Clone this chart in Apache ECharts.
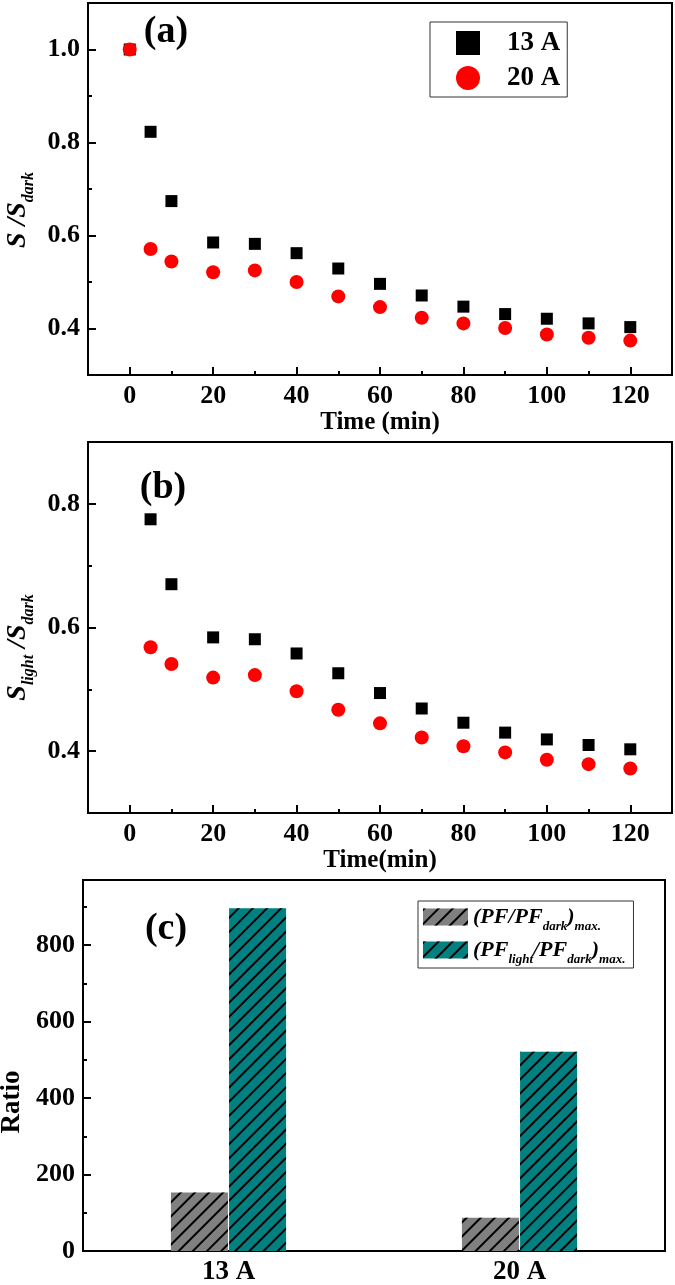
<!DOCTYPE html>
<html><head><meta charset="utf-8">
<script src="https://cdn.jsdelivr.net/npm/echarts@6/dist/echarts.min.js"></script>
<style>html,body{margin:0;padding:0;background:#fff}#c{width:675px;height:1285px}</style>
</head><body><div id="c"></div>
<script>
// ---- data ----
const timeA = [0, 5, 10, 20, 30, 40, 50, 60, 70, 80, 90, 100, 110, 120];
const sA13 = [1.0, 0.823, 0.674, 0.585, 0.582, 0.562, 0.529, 0.496, 0.471, 0.447, 0.431, 0.421, 0.411, 0.403];
const sA20 = [1.0, 0.571, 0.544, 0.521, 0.525, 0.500, 0.469, 0.446, 0.423, 0.411, 0.401, 0.387, 0.380, 0.374];
const timeB = [5, 10, 20, 30, 40, 50, 60, 70, 80, 90, 100, 110, 120];
const sB13 = [0.775, 0.670, 0.584, 0.581, 0.558, 0.526, 0.494, 0.469, 0.446, 0.430, 0.419, 0.410, 0.403];
const sB20 = [0.568, 0.541, 0.519, 0.523, 0.497, 0.467, 0.445, 0.422, 0.408, 0.398, 0.386, 0.379, 0.372];
const seriesNames = ['13 A', '20 A'];
const currents = ['13 A', '20 A'];
const pfRatioMax = [153, 87];
const pfLightRatioMax = [896, 521];
const barNames = ['(PF/PF_dark)max.', '(PF_light/PF_dark)max.'];
const timeTicks = [0, 20, 40, 60, 80, 100, 120];
const timeMinorTicks = [10, 30, 50, 70, 90, 110];
const yTicksA = [0.4, 0.6, 0.8, 1.0];
const yMinorA = [0.5, 0.7, 0.9];
const yTicksB = [0.4, 0.6, 0.8];
const yMinorB = [0.5, 0.7];
const yTicksC = [0, 200, 400, 600, 800];
const yMinorC = [100, 300, 500, 700, 900];

// ---- styling ----
const FF = "'Liberation Serif','Times New Roman',serif";
const zip = (xs, ys) => xs.map((x, i) => [x, ys[i]]);
const lineW = { color: '#000', width: 2 };

function xMain(g, name) {
  return {
    gridIndex: g, type: 'value', min: -10, max: 130, position: 'bottom',
    axisLine: { show: true, onZero: false, lineStyle: lineW },
    axisTick: { show: true, inside: true, length: 8, customValues: timeTicks, lineStyle: lineW },
    axisLabel: { customValues: timeTicks, fontSize: 26, fontWeight: 'bold', fontFamily: FF, color: '#000', margin: 8 },
    splitLine: { show: false },
    name: name, nameLocation: 'middle', nameGap: 33,
    nameTextStyle: { fontSize: 25, fontWeight: 'bold', fontFamily: FF, color: '#000' }
  };
}
function xMinor(g) {
  return {
    gridIndex: g, type: 'value', min: -10, max: 130, position: 'bottom',
    axisLine: { show: false, onZero: false },
    axisTick: { show: true, inside: true, length: 4, customValues: timeMinorTicks, lineStyle: lineW },
    axisLabel: { show: false }, splitLine: { show: false }
  };
}
function yMain(g, min, max, ticks, name, rich, gap, pad, fmt) {
  return {
    gridIndex: g, type: 'value', min: min, max: max, position: 'left',
    axisLine: { show: true, onZero: false, lineStyle: lineW },
    axisTick: { show: true, inside: true, length: 8, customValues: ticks, lineStyle: lineW },
    axisLabel: { customValues: ticks, fontSize: 26, fontWeight: 'bold', fontFamily: FF, color: '#000', margin: 8, formatter: fmt },
    splitLine: { show: false },
    name: name, nameLocation: 'middle', nameGap: gap,
    nameTextStyle: { fontSize: 27, fontWeight: 'bold', fontFamily: FF, color: '#000', rich: rich, padding: pad }
  };
}
function yMinor(g, min, max, ticks) {
  return {
    gridIndex: g, type: 'value', min: min, max: max, position: 'left',
    axisLine: { show: false, onZero: false },
    axisTick: { show: true, inside: true, length: 4, customValues: ticks, lineStyle: lineW },
    axisLabel: { show: false }, splitLine: { show: false }
  };
}
const subRich = {
  m: { fontSize: 28, fontStyle: 'italic', fontWeight: 'bold', fontFamily: FF, color: '#000', lineHeight: 30 },
  s: { fontSize: 16, fontStyle: 'italic', fontWeight: 'bold', fontFamily: FF, color: '#000', lineHeight: 16, padding: [22, 0, 0, 0] }
};
const hatch = { symbol: 'rect', symbolSize: 1, color: '#000', dashArrayX: [1, 0], dashArrayY: [2, 7.5], rotation: -Math.PI / 4 };
const gridBase = { show: true, borderColor: '#000', borderWidth: 2, containLabel: false, outerBoundsMode: 'none' };

const option = {
  backgroundColor: '#fff',
  animation: false,
  grid: [
    Object.assign({ left: 88, top: 3, width: 584, height: 372 }, gridBase),
    Object.assign({ left: 88, top: 442, width: 584, height: 371 }, gridBase),
    Object.assign({ left: 83, top: 880, width: 582, height: 371 }, gridBase)
  ],
  xAxis: [
    xMain(0, 'Time (min)'), xMinor(0),
    xMain(1, 'Time(min)'), xMinor(1),
    {
      gridIndex: 2, type: 'category', data: currents, position: 'bottom',
      axisLine: { show: true, onZero: false, lineStyle: lineW },
      axisTick: { show: false },
      axisLabel: { fontSize: 27, fontWeight: 'bold', fontFamily: FF, color: '#000', margin: 8 }
    }
  ],
  yAxis: [
    yMain(0, 0.3, 1.1, yTicksA, '{m|S /S}{s|dark}', subRich, 54, [0, 42, 0, 0], v => v.toFixed(1)), yMinor(0, 0.3, 1.1, yMinorA),
    yMain(1, 0.3, 0.9, yTicksB, '{m|S}{s|light}{m| /S}{s|dark}', subRich, 54, [0, 40, 0, 0], v => v.toFixed(1)), yMinor(1, 0.3, 0.9, yMinorB),
    yMain(2, 0, 970, yTicksC, 'Ratio', null, 57, [0, 73, 0, 0], v => String(v)), yMinor(2, 0, 970, yMinorC)
  ],
  legend: [
    {
      data: seriesNames, orient: 'vertical', left: 430, top: 22,
      itemWidth: 24, itemHeight: 24, itemGap: 7, padding: [7, 7, 5, 26],
      borderColor: '#333', borderWidth: 1, selectedMode: false,
      textStyle: { fontSize: 27, fontWeight: 'bold', fontFamily: FF, color: '#000', lineHeight: 28, padding: [0, 0, 0, 22] }
    },
    {
      data: barNames, orient: 'vertical', left: 418, top: 901, icon: 'rect',
      itemWidth: 45, itemHeight: 17, itemGap: 1, padding: [0, 8, 2, 5],
      borderColor: '#333', borderWidth: 1, selectedMode: false,
      formatter: function (name) {
        if (name === barNames[0]) return '{m|(PF/PF}{s|dark}{m|)}{s|max.}';
        return '{m|(PF}{s|light}{m|/PF}{s|dark}{m|)}{s|max.}';
      },
      textStyle: {
        color: '#000',
        rich: {
          m: { fontSize: 22, fontStyle: 'italic', fontWeight: 'bold', fontFamily: FF, color: '#000', lineHeight: 22 },
          s: { fontSize: 13, fontStyle: 'italic', fontWeight: 'bold', fontFamily: FF, color: '#000', lineHeight: 13, padding: [19, 0, 0, 0] }
        }
      }
    }
  ],
  graphic: [
    { type: 'text', x: 166, y: 32, style: { text: '(a)', font: "bold 38px 'Liberation Serif', serif", fill: '#000', textAlign: 'center', textVerticalAlign: 'middle' } },
    { type: 'text', x: 163, y: 488, style: { text: '(b)', font: "bold 38px 'Liberation Serif', serif", fill: '#000', textAlign: 'center', textVerticalAlign: 'middle' } },
    { type: 'text', x: 166, y: 929, style: { text: '(c)', font: "bold 38px 'Liberation Serif', serif", fill: '#000', textAlign: 'center', textVerticalAlign: 'middle' } }
  ],
  series: [
    { type: 'scatter', name: seriesNames[0], xAxisIndex: 0, yAxisIndex: 0, symbol: 'rect', symbolSize: 12, itemStyle: { color: '#000', opacity: 1 }, data: zip(timeA, sA13) },
    { type: 'scatter', name: seriesNames[1], xAxisIndex: 0, yAxisIndex: 0, symbol: 'circle', symbolSize: 14, itemStyle: { color: '#ff0000', opacity: 1 }, data: zip(timeA, sA20) },
    { type: 'scatter', name: seriesNames[0], xAxisIndex: 2, yAxisIndex: 2, symbol: 'rect', symbolSize: 12, itemStyle: { color: '#000', opacity: 1 }, data: zip(timeB, sB13) },
    { type: 'scatter', name: seriesNames[1], xAxisIndex: 2, yAxisIndex: 2, symbol: 'circle', symbolSize: 14, itemStyle: { color: '#ff0000', opacity: 1 }, data: zip(timeB, sB20) },
    { type: 'bar', name: barNames[0], xAxisIndex: 4, yAxisIndex: 4, barWidth: 57, barGap: '2%', itemStyle: { color: '#808080', decal: hatch }, data: pfRatioMax },
    { type: 'bar', name: barNames[1], xAxisIndex: 4, yAxisIndex: 4, barWidth: 57, barGap: '2%', itemStyle: { color: '#008080', decal: hatch }, data: pfLightRatioMax }
  ]
};
const chart = echarts.init(document.getElementById('c'), null, { renderer: 'canvas' });
chart.setOption(option);
</script></body></html>
